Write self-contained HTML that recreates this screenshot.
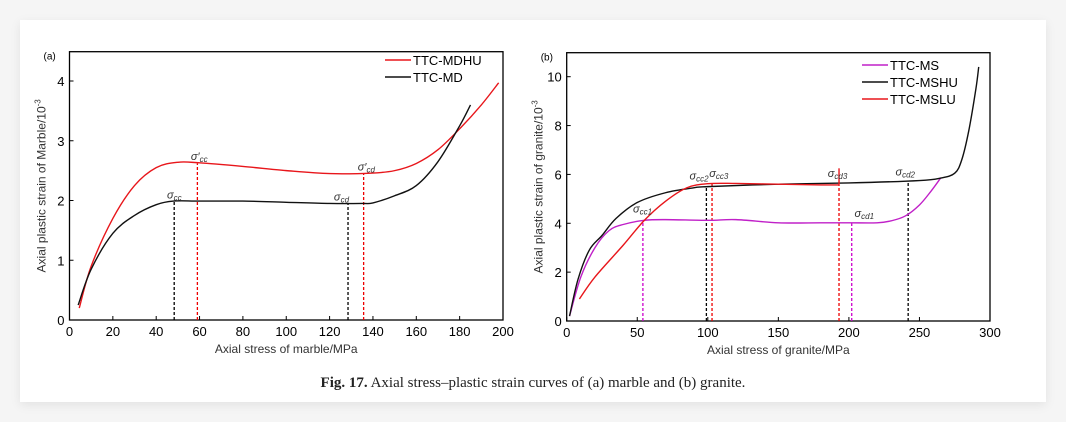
<!DOCTYPE html>
<html><head><meta charset="utf-8">
<style>
html,body{margin:0;padding:0;background:#f5f5f5;}
body{width:1066px;height:422px;position:relative;overflow:hidden;font-family:"Liberation Sans",sans-serif;}
#card{position:absolute;left:20px;top:20px;width:1026px;height:382px;background:#fff;box-shadow:0 3px 10px rgba(0,0,0,0.08);}
#caption{position:absolute;left:0;width:1066px;top:375px;text-align:center;font-family:"Liberation Serif",serif;font-size:15px;color:#222;}
svg text{font-family:"Liberation Sans",sans-serif;}
</style></head>
<body>
<div id="card"></div>
<svg id="chart" width="1066" height="422" style="position:absolute;left:0;top:0"></svg>
<div id="caption"><b>Fig. 17.</b> Axial stress–plastic strain curves of (a) marble and (b) granite.</div>
<script>
// ---- Chart (a) data ----
const aXTicks=[0,20,40,60,80,100,120,140,160,180,200];
const aYTicks=[0,1,2,3,4];
const aMdhuX=[4.5,10,20,30,40,50,60,80,100,120,140,150,160,170,180,190,198];
const aMdhuY=[0.2,0.9,1.7,2.25,2.55,2.64,2.63,2.57,2.5,2.45,2.46,2.5,2.62,2.85,3.2,3.6,3.97];
const aMdX=[4,10,20,30,40,48,60,80,100,120,135,140,150,160,170,180,185];
const aMdY=[0.25,0.85,1.45,1.75,1.93,1.99,1.99,1.99,1.97,1.95,1.95,1.96,2.08,2.25,2.65,3.25,3.6];
const aMarkX=[48.3,128.5,59,135.7];
const aMarkY=[1.99,1.95,2.62,2.45];
const aMarkC=["#000","#000","#e00","#e00"];
// ---- Chart (b) data ----
const bXTicks=[0,50,100,150,200,250,300];
const bYTicks=[0,2,4,6,8,10];
const bMsX=[2,10,20,30,40,55,70,100,120,150,180,200,220,230,240,250,258,265];
const bMsY=[0.2,1.8,3.0,3.7,3.95,4.12,4.15,4.12,4.15,4.02,4.02,4.02,4.02,4.1,4.3,4.75,5.3,5.85];
const bMshuX=[2,8,16,25,35,50,70,90,100,150,200,250,265,275,280,285,290,292];
const bMshuY=[0.2,1.7,2.9,3.5,4.2,4.85,5.25,5.45,5.5,5.6,5.65,5.75,5.85,6.05,6.6,7.8,9.5,10.4];
const bMsluX=[9,20,40,55,70,85,100,120,150,180,193];
const bMsluY=[0.9,1.8,3.1,4.12,4.9,5.45,5.62,5.63,5.6,5.57,5.57];
const bMarkX=[54,202,99,242,103,193];
const bMarkY=[4.12,4.02,5.5,5.72,5.62,5.57];
const bMarkC=["#c0c","#c0c","#000","#000","#e00","#e00"];

const NS="http://www.w3.org/2000/svg";
const svg=document.getElementById('chart');
function mk(tag,attrs,parent){const e=document.createElementNS(NS,tag);for(const k in attrs)e.setAttribute(k,attrs[k]);(parent||svg).appendChild(e);return e;}
function smooth(pts){let d="M"+pts[0][0]+","+pts[0][1];for(let i=0;i<pts.length-1;i++){const p0=pts[Math.max(0,i-1)],p1=pts[i],p2=pts[i+1],p3=pts[Math.min(pts.length-1,i+2)];const c1x=p1[0]+(p2[0]-p0[0])/6,c1y=p1[1]+(p2[1]-p0[1])/6,c2x=p2[0]-(p3[0]-p1[0])/6,c2y=p2[1]-(p3[1]-p1[1])/6;d+=" C"+c1x+","+c1y+" "+c2x+","+c2y+" "+p2[0]+","+p2[1];}return d;}

function axes(cfg){
  const {L,R,T,B,xmax,ymax,xt,yt,xlab,ylab,tag,name}=cfg;
  const T0=cfg.T0;
  const sx=v=>L+(v/xmax)*(R-L), sy=v=>B-(v/ymax)*(B-T0);
  const g=mk('g',{});
  
  
  const box=mk('rect',{x:L,y:T,width:R-L,height:B-T,fill:'none',stroke:'#000','stroke-width':1.3},g);
  
  xt.forEach(v=>{const x=sx(v);mk('line',{x1:x,x2:x,y1:B,y2:B-4,stroke:'#000'},g);
    const t=mk('text',{x:x,y:B+16,'text-anchor':'middle','font-size':13},g);t.textContent=v;
    });
  yt.forEach(v=>{const y=sy(v);mk('line',{x1:L,x2:L+4,y1:y,y2:y,stroke:'#000'},g);
    const t=mk('text',{x:L-5,y:y+5,'text-anchor':'end','font-size':13},g);t.textContent=v;
    });
  const xl=mk('text',{x:(L+R)/2,y:B+33,'text-anchor':'middle','font-size':12,fill:'#333'},g);xl.textContent=xlab;
  
  const yl=mk('text',{transform:`translate(${L-24},${(T+B)/2}) rotate(-90)`,'text-anchor':'middle','font-size':12,fill:'#333'},g);
  yl.innerHTML=ylab;
  
  const tg=mk('text',{x:L-26,y:T+8,'font-size':10,'font-family':'Liberation Serif,serif'},g);tg.textContent=tag;
  
  return {sx,sy,g};
}
function series(ax,xs,ys,color,name){const pts=xs.map((x,i)=>[ax.sx(x),ax.sy(ys[i])]);
  const p=mk('path',{d:smooth(pts),fill:'none',stroke:color,'stroke-width':1.4},ax.g);
  }
function marks(ax,xs,ys,cs){xs.forEach((x,i)=>{const l=mk('line',{x1:ax.sx(x),x2:ax.sx(x),y1:ax.sy(0),y2:ax.sy(ys[i]),stroke:cs[i],'stroke-width':1.3,'stroke-dasharray':'3,2'},ax.g);
  });}
function sig(ax,x,y,sub,prime,name){const t=mk('text',{x:ax.sx(x),y:ax.sy(y),'font-size':11,'font-style':'italic','font-family':'Liberation Serif,serif',fill:'#333'},ax.g);
  t.innerHTML='σ'+(prime?'′':'')+`<tspan font-size="8" dy="2">${sub}</tspan>`;
  }
function legend(ax,x,y,items){items.forEach((it,i)=>{const yy=y+i*17;
  const g=mk('g',{},ax.g);
  mk('line',{x1:x,x2:x+26,y1:yy,y2:yy,stroke:it[1],'stroke-width':1.5},g);
  const t=mk('text',{x:x+28,y:yy+5,'font-size':13},g);t.textContent=it[0];});}

// Panel (a)
const A=axes({L:69.5,R:503,T:51.7,T0:81,B:320,xmax:200,ymax:4,xt:aXTicks,yt:aYTicks,
  xlab:'Axial stress of marble/MPa',ylab:'Axial plastic strain of Marble/10<tspan font-size="8" dy="-5">-3</tspan>',tag:'(a)',name:'chart-a'});
marks(A,aMarkX,aMarkY,aMarkC);
series(A,aMdhuX,aMdhuY,'#e8161b','series-ttc-mdhu');
series(A,aMdX,aMdY,'#111','series-ttc-md');
sig(A,45,2.03,'cc',false,'label-sigma-cc');
sig(A,56,2.68,'cc',true,'label-sigma-cc-prime');
sig(A,122,2.0,'cd',false,'label-sigma-cd');
sig(A,133,2.5,'cd',true,'label-sigma-cd-prime');
legend(A,385,60,[['TTC-MDHU','#e8161b'],['TTC-MD','#111']]);

// Panel (b)
const B=axes({L:566.7,R:990,T:52.7,T0:76.7,B:321,xmax:300,ymax:10,xt:bXTicks,yt:bYTicks,
  xlab:'Axial stress of granite/MPa',ylab:'Axial plastic strain of granite/10<tspan font-size="8" dy="-5">-3</tspan>',tag:'(b)',name:'chart-b'});
marks(B,bMarkX,bMarkY,bMarkC);
series(B,bMsX,bMsY,'#c020c8','series-ttc-ms');
series(B,bMshuX,bMshuY,'#111','series-ttc-mshu');
series(B,bMsluX,bMsluY,'#e8161b','series-ttc-mslu');
const tail=mk('line',{x1:B.sx(193),x2:B.sx(193),y1:B.sy(5.57),y2:B.sy(6.25),stroke:'#e8161b','stroke-width':1.4},B.g);

sig(B,47,4.45,'cc1',false,'label-sigma-cc1');
sig(B,87,5.8,'cc2',false,'label-sigma-cc2');
sig(B,101,5.9,'cc3',false,'label-sigma-cc3');
sig(B,185,5.9,'cd3',false,'label-sigma-cd3');
sig(B,233,5.95,'cd2',false,'label-sigma-cd2');
sig(B,204,4.25,'cd1',false,'label-sigma-cd1');
legend(B,862,65,[['TTC-MS','#c020c8'],['TTC-MSHU','#111'],['TTC-MSLU','#e8161b']]);
</script>
</body></html>
